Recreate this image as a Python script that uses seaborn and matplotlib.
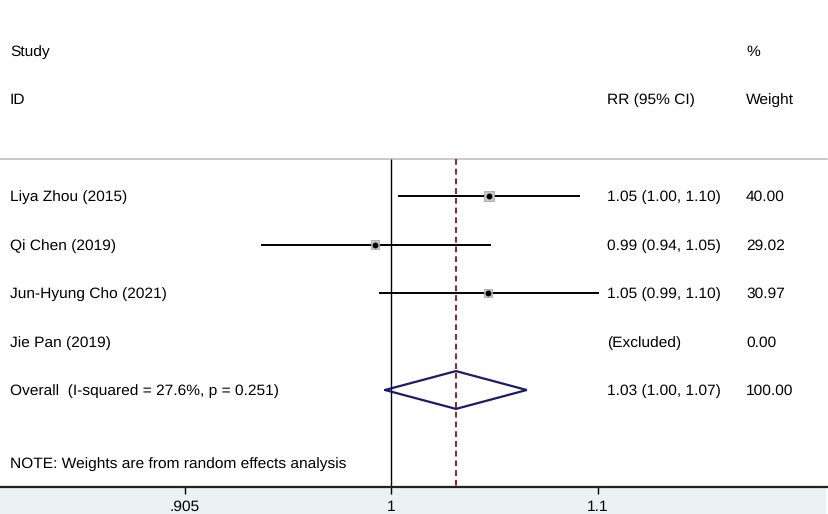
import numpy as np
import pandas as pd
import matplotlib
matplotlib.use("Agg")
import matplotlib.pyplot as plt
import matplotlib.transforms as mtransforms
from matplotlib.patches import Rectangle
import seaborn as sns

# ---------------- data ----------------
studies = ["Liya Zhou (2015)", "Qi Chen (2019)", "Jun-Hyung Cho (2021)", "Jie Pan (2019)"]
rr = [1.046, 0.9925, 1.0455, np.nan]
ci_low = [1.003, 0.9414, 0.9942, np.nan]
ci_high = [1.091, 1.0468, 1.1005, np.nan]
rr_text = ["1.05 (1.00, 1.10)", "0.99 (0.94, 1.05)", "1.05 (0.99, 1.10)", "(Excluded)"]
weights = [40.00, 29.02, 30.97, 0.00]

overall_label = "Overall  (I-squared = 27.6%, p = 0.251)"
overall_rr = 1.0302
overall_low = 0.997
overall_high = 1.0644
overall_text = "1.03 (1.00, 1.07)"
overall_weight = 100.00

note_text = "NOTE: Weights are from random effects analysis"
tick_values = [1 / 1.1, 1.0, 1.1]
tick_labels = [".905", "1", "1.1"]

# ---------------- figure ----------------
sns.set_theme(style="white")
plt.rcParams["font.family"] = ["Liberation Sans", "DejaVu Sans"]
plt.rcParams["text.hinting"] = "no_hinting"

W, H = 829, 514
fig = plt.figure(figsize=(W / 100, H / 100), dpi=100, facecolor="white")
ax_bottom_px = 487
ax = fig.add_axes([0, (H - ax_bottom_px) / H, 827 / W, ax_bottom_px / H])
ax.set_facecolor("white")
ax.set_zorder(2)

# gray band below axis
band = Rectangle((0, 0), 826 / W, (H - ax_bottom_px) / H, transform=fig.transFigure,
                 facecolor="#EAF2F3", edgecolor="none", zorder=-5)
fig.patches.append(band)

ax.set_xscale("log")
px_per_ln = 2167.0
x0_px = 391.5
ax.set_xlim(np.exp(-x0_px / px_per_ln), np.exp((827 - x0_px) / px_per_ln))
row_px = 48.5
top = 6 - ax_bottom_px / row_px
ax.set_ylim(6, top)

n = len(studies)
rows = np.arange(n)
overall_row = n
header_y = (159 - 196) / row_px
note_y = 5.5

df = pd.DataFrame({"study": studies, "rr": rr, "lo": ci_low, "hi": ci_high,
                   "weight": weights, "row": rows})
valid = df.dropna()

# reference lines
ax.vlines(1.0, header_y, 6, color="black", lw=1.0, zorder=2)
ax.vlines(overall_rr, header_y, 6, color="#9E1F24", lw=1.4, linestyles=(0, (3, 2)), zorder=2)

# CI lines
ax.hlines(valid["row"], valid["lo"], valid["hi"], color="black", lw=1.4, zorder=3)

# weight boxes
size_map = {w: 48 * w / 40 for w in valid["weight"]}
sns.scatterplot(data=valid, x="rr", y="row", size="weight", sizes=size_map, marker="s",
                color="#C8C8C8", edgecolor="#A8A8A8", linewidth=0.6, legend=False, ax=ax, zorder=4)
sns.scatterplot(data=valid, x="rr", y="row", marker="o", s=18, color="black",
                edgecolor="black", linewidth=0, legend=False, ax=ax, zorder=5)

# overall diamond
dh = 0.39
ax.plot([overall_low, overall_rr, overall_high, overall_rr, overall_low],
        [overall_row, overall_row - dh, overall_row, overall_row + dh, overall_row],
        color="#1B1B6B", lw=1.6, zorder=4, solid_joinstyle="miter")

# header separator line
ax.axhline(header_y, color="#C8C8C8", lw=1.4, clip_on=False, zorder=1)

# texts
tr = mtransforms.blended_transform_factory(ax.transAxes, ax.transData)
fs = 11.15
dy = 0.03
xl, xr, xw = 10 / 827, 607 / 827, 746 / 827
kw = dict(transform=tr, fontsize=fs, va="center", ha="left", color="black")
ax.text(xl, -3 + dy, "Study", **kw)
ax.text(xl, -2 + dy, "ID", **kw)
ax.text(xr, -2 + dy, "RR (95% CI)", **kw)
ax.text(xw, -3 + dy, "%", **kw)
ax.text(xw, -2 + dy, "Weight", **kw)
for i in range(n):
    ax.text(xl, rows[i] + dy, studies[i], **kw)
    ax.text(xr, rows[i] + dy, rr_text[i], **kw)
    ax.text(xw, rows[i] + dy, f"{weights[i]:.2f}", **kw)
ax.text(xl, overall_row + dy, overall_label, **kw)
ax.text(xr, overall_row + dy, overall_text, **kw)
ax.text(xw, overall_row + dy, f"{overall_weight:.2f}", **kw)
ax.text(xl, note_y + dy, note_text, **kw)

# axes styling
for s in ["top", "left", "right"]:
    ax.spines[s].set_visible(False)
ax.spines["bottom"].set_color("#222222")
ax.spines["bottom"].set_linewidth(1.6)
ax.set_yticks([])
ax.set_xticks(tick_values)
ax.set_xticklabels(tick_labels)
ax.xaxis.set_minor_locator(matplotlib.ticker.NullLocator())
ax.tick_params(axis="x", which="major", direction="out", length=5, width=1.0,
               color="black", labelsize=fs, labelcolor="black", pad=4.5, bottom=True)
ax.set_xlabel("")
ax.set_ylabel("")

fig.savefig("out.png", dpi=100, facecolor="white")
